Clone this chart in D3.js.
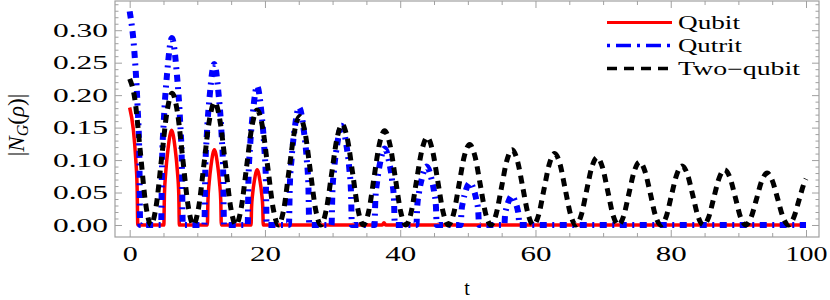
<!DOCTYPE html>
<html>
<head>
<meta charset="utf-8">
<script src="https://cdn.jsdelivr.net/npm/d3@7"></script>
<style>
  body { margin: 0; background: #fff; }
  svg text { font-family: "Liberation Serif", "Times New Roman", serif; }
</style>
</head>
<body>
<svg id="chart" width="830" height="300"></svg>
<script>
// values, [t, |N_G(rho)|]
const qubit = [
  [0, 0.181], [0.54, 0.147], [0.9, 0.101], [1.1, 0.058], [1.2, 0],
  [5.05, 0], [5.14, 0.047], [5.34, 0.082], [5.68, 0.118], [6.2, 0.146], [6.72, 0.118], [7.06, 0.082], [7.26, 0.047], [7.35, 0],
  [11.49, 0], [11.57, 0.037], [11.75, 0.065], [12.06, 0.094], [12.52, 0.116], [12.98, 0.094], [13.29, 0.065], [13.47, 0.037], [13.55, 0],
  [17.95, 0], [18.02, 0.027], [18.18, 0.048], [18.45, 0.069], [18.85, 0.085], [19.25, 0.069], [19.52, 0.048], [19.68, 0.027], [19.75, 0],
  [37.35, 0], [37.6, 0.0035], [37.85, 0], [100, 0]
];

const qutrit = [
  [0, 0.329], [0.70, 0.266], [1.16, 0.184], [1.43, 0.105], [1.55, 0],
  [4.65, 0], [4.78, 0.092], [5.05, 0.161], [5.53, 0.233], [6.25, 0.288], [6.97, 0.233], [7.45, 0.161], [7.72, 0.092], [7.85, 0],
  [11.05, 0], [11.17, 0.079], [11.41, 0.139], [11.85, 0.201], [12.5, 0.248], [13.15, 0.201], [13.59, 0.139], [13.83, 0.079], [13.95, 0],
  [17.45, 0], [17.56, 0.068], [17.8, 0.12], [18.22, 0.173], [18.85, 0.214], [19.48, 0.173], [19.9, 0.12], [20.14, 0.068], [20.25, 0],
  [23.55, 0], [23.67, 0.058], [23.93, 0.101], [24.38, 0.147], [25.05, 0.181], [25.73, 0.147], [26.18, 0.101], [26.43, 0.058], [26.55, 0],
  [29.85, 0], [29.97, 0.049], [30.23, 0.086], [30.68, 0.124], [31.35, 0.153], [32.03, 0.124], [32.48, 0.086], [32.73, 0.049], [32.85, 0],
  [36.2, 0], [36.32, 0.038], [36.58, 0.066], [37.03, 0.096], [37.7, 0.118], [38.38, 0.096], [38.83, 0.066], [39.08, 0.038], [39.2, 0],
  [42.4, 0], [42.52, 0.029], [42.78, 0.05], [43.23, 0.073], [43.9, 0.09], [44.58, 0.073], [45.03, 0.05], [45.28, 0.029], [45.4, 0],
  [48.95, 0], [49.06, 0.021], [49.29, 0.036], [49.69, 0.053], [50.3, 0.065], [50.91, 0.053], [51.31, 0.036], [51.54, 0.021], [51.65, 0],
  [55.4, 0], [55.49, 0.014], [55.67, 0.025], [56.0, 0.036], [56.5, 0.045], [57.0, 0.036], [57.33, 0.025], [57.51, 0.014], [57.6, 0],
  [100, 0]
];

const twoQubit = [
  [0, 0.225], [0.79, 0.192], [1.57, 0.113], [2.36, 0.033], [3.14, 0], [3.93, 0.030], [4.71, 0.102], [5.50, 0.173], [6.28, 0.203],
  [7.07, 0.173], [7.85, 0.102], [8.64, 0.030], [9.42, 0], [10.21, 0.028], [11.0, 0.095], [11.78, 0.161], [12.57, 0.189],
  [13.35, 0.161], [14.14, 0.095], [14.92, 0.028], [15.71, 0], [16.49, 0.026], [17.28, 0.089], [18.06, 0.151], [18.85, 0.177],
  [19.64, 0.151], [20.42, 0.089], [21.21, 0.026], [21.99, 0], [22.78, 0.024], [23.56, 0.084], [24.35, 0.143], [25.13, 0.167],
  [25.92, 0.143], [26.70, 0.084], [27.49, 0.024], [28.27, 0], [29.06, 0.023], [29.85, 0.078], [30.63, 0.132], [31.42, 0.155],
  [32.20, 0.132], [32.99, 0.078], [33.77, 0.023], [34.56, 0], [35.34, 0.021], [36.13, 0.073], [36.91, 0.124], [37.70, 0.145],
  [38.48, 0.124], [39.27, 0.073], [40.06, 0.021], [40.84, 0], [41.63, 0.020], [42.41, 0.068], [43.20, 0.115], [43.98, 0.135],
  [44.77, 0.115], [45.55, 0.068], [46.34, 0.020], [47.12, 0], [47.91, 0.018], [48.69, 0.062], [49.48, 0.106], [50.27, 0.124],
  [51.05, 0.106], [51.84, 0.062], [52.62, 0.018], [53.41, 0], [54.19, 0.017], [54.98, 0.058], [55.76, 0.099], [56.55, 0.116],
  [57.33, 0.099], [58.12, 0.058], [58.90, 0.017], [59.69, 0], [60.48, 0.016], [61.26, 0.055], [62.05, 0.094], [62.83, 0.110],
  [63.62, 0.094], [64.40, 0.055], [65.19, 0.016], [65.97, 0], [66.76, 0.015], [67.54, 0.052], [68.33, 0.089], [69.12, 0.104],
  [69.90, 0.089], [70.69, 0.052], [71.47, 0.015], [72.26, 0], [73.04, 0.014], [73.83, 0.049], [74.61, 0.083], [75.40, 0.097],
  [76.18, 0.083], [76.97, 0.049], [77.75, 0.014], [78.54, 0], [79.33, 0.013], [80.11, 0.046], [80.90, 0.078], [81.68, 0.091],
  [82.47, 0.078], [83.25, 0.046], [84.04, 0.013], [84.82, 0], [85.61, 0.012], [86.39, 0.043], [87.18, 0.073], [87.96, 0.085],
  [88.75, 0.073], [89.54, 0.043], [90.32, 0.012], [91.11, 0], [91.89, 0.012], [92.68, 0.040], [93.46, 0.068], [94.25, 0.080],
  [95.03, 0.068], [95.82, 0.040], [96.60, 0.012], [97.39, 0], [98.17, 0.011], [98.96, 0.038], [99.74, 0.065], [100, 0.071]
];

const seriesNames = ["Qubit", "Qutrit", "Two\u2212qubit"];
const xMajor = [0, 20, 40, 60, 80, 100];
const xMinor = [5, 10, 15, 25, 30, 35, 45, 50, 55, 65, 70, 75, 85, 90, 95];
const yMajor = [0, 0.05, 0.10, 0.15, 0.20, 0.25, 0.30];
const yMinor = [0.01, 0.02, 0.03, 0.04, 0.06, 0.07, 0.08, 0.09, 0.11, 0.12, 0.13, 0.14,
  0.16, 0.17, 0.18, 0.19, 0.21, 0.22, 0.23, 0.24, 0.26, 0.27, 0.28, 0.29, 0.31, 0.32, 0.33, 0.34];

const frame = { left: 115, right: 819, top: 1, bottom: 237 };
const frameColor = "#a0a0a0";

const svg = d3.select("#chart");
const x = d3.scaleLinear().domain([-2.17, 101.92]).range([frame.left, frame.right]);
const y = d3.scaleLinear().domain([-0.0185, 0.345]).range([frame.bottom, frame.top]);

// ticks, all pointing inwards
function tickAxis(axis, tx, ty, values, size) {
  return svg.append("g")
    .attr("transform", `translate(${tx},${ty})`)
    .attr("color", frameColor)
    .call(axis.tickValues(values).tickSize(-size).tickFormat(""))
    .call(g => g.select(".domain").remove());
}
tickAxis(d3.axisBottom(x), 0, frame.bottom, xMinor, 4);
tickAxis(d3.axisTop(x), 0, frame.top, xMinor, 4);
tickAxis(d3.axisTop(x), 0, frame.top, xMajor, 7);
tickAxis(d3.axisLeft(y), frame.left, 0, yMinor, 3.5);
tickAxis(d3.axisRight(y), frame.right, 0, yMinor, 3.5);
tickAxis(d3.axisRight(y), frame.right, 0, yMajor, 7);

const xAxis = svg.append("g")
  .attr("transform", `translate(0,${frame.bottom})`)
  .attr("color", frameColor)
  .call(d3.axisBottom(x).tickValues(xMajor).tickSize(-7).tickPadding(10))
  .call(g => g.select(".domain").remove());
xAxis.selectAll("text")
  .attr("fill", "#000")
  .style("font-size", "20px")
  .attr("textLength", d => [15, 31, 42][String(d).length - 1])
  .attr("lengthAdjust", "spacingAndGlyphs");

const yAxis = svg.append("g")
  .attr("transform", `translate(${frame.left},0)`)
  .attr("color", frameColor)
  .call(d3.axisLeft(y).tickValues(yMajor).tickSize(-7).tickPadding(7).tickFormat(d3.format(".2f")))
  .call(g => g.select(".domain").remove());
yAxis.selectAll("text")
  .attr("fill", "#000")
  .style("font-size", "19px")
  .attr("textLength", 55)
  .attr("lengthAdjust", "spacingAndGlyphs");

svg.append("rect")
  .attr("x", frame.left).attr("y", frame.top)
  .attr("width", frame.right - frame.left).attr("height", frame.bottom - frame.top)
  .attr("fill", "none")
  .attr("stroke", frameColor)
  .attr("stroke-width", 1.2);

svg.append("clipPath").attr("id", "plot-clip")
  .append("rect")
  .attr("x", frame.left).attr("y", frame.top)
  .attr("width", frame.right - frame.left).attr("height", frame.bottom - frame.top);

const line = d3.line()
  .x(d => x(d[0]))
  .y(d => y(d[1]))
  .curve(d3.curveMonotoneX);

const styles = [
  { data: qubit, color: "#ff0000", width: 3.5, dash: null, legendWidth: 3, legendDash: null },
  { data: qutrit, color: "#0000ff", width: 6, dash: "7,5.5,2,5.5", legendWidth: 3.5, legendDash: "3,6,15,6" },
  { data: twoQubit, color: "#000000", width: 5, dash: "8,6", legendWidth: 3.5, legendDash: "10,7" }
];

const plot = svg.append("g").attr("clip-path", "url(#plot-clip)");
plot.selectAll(".series")
  .data(styles)
  .join("path")
  .classed("series", true)
  .attr("d", s => line(s.data))
  .attr("fill", "none")
  .attr("stroke", s => s.color)
  .attr("stroke-width", s => s.width)
  .attr("stroke-dasharray", s => s.dash)
  .attr("stroke-linejoin", "round");

// legend
const legendTextLength = [62, 64, 122];
const legend = svg.append("g");
styles.forEach((s, i) => {
  const base = 28.5 + i * 23;
  legend.append("line")
    .attr("x1", 607).attr("x2", 672)
    .attr("y1", base - 6).attr("y2", base - 6)
    .attr("stroke", s.color)
    .attr("stroke-width", s.legendWidth)
    .attr("stroke-dasharray", s.legendDash);
  legend.append("text")
    .attr("x", 678).attr("y", base)
    .style("font-size", "18px")
    .attr("textLength", legendTextLength[i])
    .attr("lengthAdjust", "spacingAndGlyphs")
    .text(seriesNames[i]);
});

// axis titles
svg.append("text")
  .attr("x", 467).attr("y", 295)
  .attr("text-anchor", "middle")
  .style("font-size", "20px")
  .text("t");

const yTitle = svg.append("text")
  .attr("transform", "translate(24,125) rotate(-90)")
  .attr("text-anchor", "middle")
  .style("font-size", "23px");
yTitle.append("tspan").text("|");
yTitle.append("tspan").style("font-style", "italic").text("N");
yTitle.append("tspan").style("font-style", "italic").style("font-size", "16px").attr("dy", 4).text("G");
yTitle.append("tspan").attr("dy", -4).text("(");
yTitle.append("tspan").style("font-style", "italic").text("\u03c1");
yTitle.append("tspan").text(")|");
</script>
</body>
</html>
